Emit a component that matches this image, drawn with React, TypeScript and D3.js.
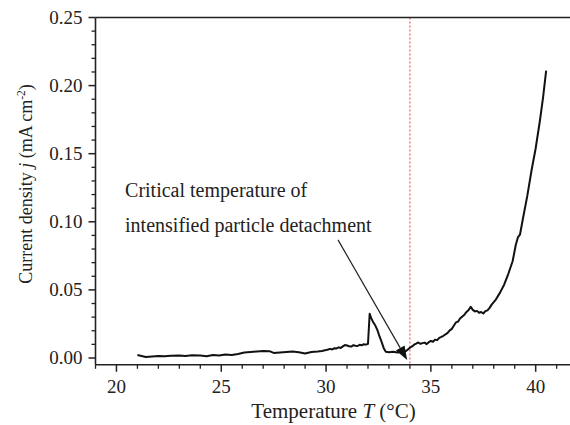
import React from "react";
import * as d3 from "d3";

const temps = [
  21.0, 21.2, 21.4, 21.7, 22.0, 22.3, 22.6, 23.0, 23.3, 23.6, 24.0, 24.3, 24.6, 24.9,
  25.2, 25.5, 25.8, 26.1, 26.4, 26.7, 27.0, 27.3, 27.5, 27.8, 28.1, 28.4, 28.7, 29.0,
  29.3, 29.6, 29.8, 30.0, 30.1, 30.2, 30.3, 30.4, 30.5, 30.6, 30.7, 30.8, 30.9, 31.0,
  31.1, 31.2, 31.3, 31.4, 31.5, 31.6, 31.7, 31.8, 31.9, 32.0, 32.08, 32.15, 32.25,
  32.35, 32.45, 32.55, 32.65, 32.75, 32.85, 33.0, 33.2, 33.4, 33.6, 33.8, 33.9,
  34.0, 34.1, 34.2, 34.3, 34.4, 34.5, 34.6, 34.7, 34.8, 34.9, 35.0, 35.1, 35.2, 35.3,
  35.4, 35.5, 35.6, 35.7, 35.8, 35.9, 36.0, 36.1, 36.2, 36.3, 36.4, 36.5, 36.6, 36.7,
  36.8, 36.9, 37.0, 37.1, 37.2, 37.3, 37.4, 37.5, 37.6, 37.7, 37.8, 37.9, 38.0, 38.1,
  38.3, 38.5, 38.7, 38.9, 39.05, 39.15, 39.25, 39.4, 39.6, 39.8, 40.0, 40.2, 40.35, 40.5,
];
const currents = [
  0.0022, 0.0015, 0.0007, 0.0011, 0.0015, 0.0013, 0.0016, 0.0018, 0.0015, 0.002, 0.0018, 0.0013, 0.0022, 0.0018,
  0.0026, 0.0022, 0.003, 0.0041, 0.0044, 0.0048, 0.0052, 0.005, 0.0037, 0.0041, 0.0044, 0.0048, 0.0042, 0.0033,
  0.0044, 0.0048, 0.0052, 0.0058, 0.0062, 0.0067, 0.0063, 0.0072, 0.007, 0.0078, 0.0074, 0.0085, 0.0095, 0.0092,
  0.0086, 0.0084, 0.0094, 0.009, 0.0088, 0.0097, 0.0093, 0.0101, 0.0098, 0.0104, 0.0325, 0.0295, 0.0262,
  0.0238, 0.0205, 0.0158, 0.0118, 0.0072, 0.0046, 0.0042, 0.0045, 0.0041, 0.0044, 0.005, 0.0062,
  0.0075, 0.0085, 0.0098, 0.0105, 0.0114, 0.0104, 0.0109, 0.0113, 0.0102, 0.0116, 0.0125, 0.0119, 0.0135, 0.0131,
  0.0148, 0.0155, 0.0163, 0.0174, 0.0184, 0.0203, 0.0214, 0.0238, 0.0262, 0.0268, 0.0292, 0.0304, 0.0318, 0.0338,
  0.0352, 0.0376, 0.0353, 0.0342, 0.0346, 0.0332, 0.0338, 0.0327, 0.0344, 0.035, 0.0368, 0.0392, 0.041, 0.0429,
  0.048, 0.054, 0.062, 0.071, 0.083, 0.0885, 0.0905, 0.103, 0.119, 0.1375, 0.154, 0.174, 0.191, 0.211,
];

const xTickValues = [20, 25, 30, 35, 40];
const yTickValues = [0.0, 0.05, 0.1, 0.15, 0.2, 0.25];
const criticalT = [34];
const annotationLines = ["Critical temperature of", "intensified particle detachment"];
const annotationTextAt = [20.41, 0.118];
const arrowFrom = [30.57, 0.0867];
const arrowTo = [33.87, -0.0015];

const W = 570;
const H = 425;
const FONT = "'Liberation Serif', 'Times New Roman', serif";

export default function App() {
  const x = d3.scaleLinear().domain([19, 42]).range([95.5, 577.6]);
  const y = d3.scaleLinear().domain([-0.005, 0.25]).range([364.8, 17.5]);
  const line = d3
    .line<number>()
    .x((_, i) => x(temps[i]))
    .y((d) => y(d));

  const xMinor = d3.range(19, 43, 1).filter((v) => !xTickValues.includes(v));
  const yMinor = d3
    .range(0, 0.2501, 0.01)
    .map((v) => +v.toFixed(2))
    .filter((v) => !yTickValues.some((t) => Math.abs(t - v) < 1e-9));

  const x0 = x(19);
  const yb = y(-0.005);
  const yt = y(0.25);

  const ax1 = x(arrowFrom[0]), ay1 = y(arrowFrom[1]);
  const ax2 = x(arrowTo[0]), ay2 = y(arrowTo[1]);
  const ang = Math.atan2(ay2 - ay1, ax2 - ax1);
  const hl = 14, hw = 5;
  const bx = ax2 - hl * Math.cos(ang), by = ay2 - hl * Math.sin(ang);
  const head = [
    [ax2, ay2],
    [bx + hw * Math.sin(ang), by - hw * Math.cos(ang)],
    [bx - hw * Math.sin(ang), by + hw * Math.cos(ang)],
  ];

  return (
    <svg
      width={W}
      height={H}
      style={{ position: "absolute", left: 0, top: 0, background: "#fff" }}
      fontFamily={FONT}
    >
      <rect x={0} y={0} width={W} height={H} fill="#fff" />
      {criticalT.map((t) => (
        <line key={t} x1={x(t)} x2={x(t)} y1={yt} y2={yb} stroke="#e8504a" strokeWidth={1.1} strokeDasharray="2,2" />
      ))}
      <path d={line(currents) || ""} fill="none" stroke="#111" strokeWidth={2} strokeLinejoin="round" />
      <line x1={ax1} y1={ay1} x2={bx} y2={by} stroke="#222" strokeWidth={1.2} />
      <polygon points={head.map((p) => p.join(",")).join(" ")} fill="#111" />
      <text x={x(annotationTextAt[0])} y={y(annotationTextAt[1])} fontSize={20} fill="#222">
        {annotationLines.map((l, i) => (
          <tspan key={i} x={x(annotationTextAt[0])} dy={i === 0 ? 0 : 35}>
            {l}
          </tspan>
        ))}
      </text>
      <line x1={x0} x2={W} y1={yt} y2={yt} stroke="#222" strokeWidth={1.6} />
      <line x1={x0} x2={x0} y1={yt} y2={yb} stroke="#222" strokeWidth={1.6} />
      <line x1={x0} x2={W} y1={yb} y2={yb} stroke="#222" strokeWidth={1.6} />
      {xTickValues.map((t) => (
        <g key={t}>
          <line x1={x(t)} x2={x(t)} y1={yb} y2={yb + 7} stroke="#222" strokeWidth={1.5} />
          <text x={x(t)} y={yb + 28} fontSize={19} textAnchor="middle" fill="#222">
            {t}
          </text>
        </g>
      ))}
      {xMinor.map((t) => (
        <line key={t} x1={x(t)} x2={x(t)} y1={yb} y2={yb + 4} stroke="#222" strokeWidth={1.3} />
      ))}
      {yTickValues.map((t) => (
        <g key={t}>
          <line x1={x0 - 7} x2={x0} y1={y(t)} y2={y(t)} stroke="#222" strokeWidth={1.5} />
          <text x={x0 - 13} y={y(t)} dy="0.34em" fontSize={19} textAnchor="end" fill="#222">
            {t.toFixed(2)}
          </text>
        </g>
      ))}
      {yMinor.map((t) => (
        <line key={t} x1={x0 - 4} x2={x0} y1={y(t)} y2={y(t)} stroke="#222" strokeWidth={1.3} />
      ))}
      <text x={(95.5 + 577.6) / 2 - 3} y={418} fontSize={21} textAnchor="middle" fill="#222">
        Temperature <tspan fontStyle="italic">T</tspan> (°C)
      </text>
      <text transform={`translate(32,184) rotate(-90)`} fontSize={18} textAnchor="middle" fill="#222">
        Current density <tspan fontStyle="italic">j</tspan> (mA cm
        <tspan dy={-7} fontSize={11.5}>-2</tspan>
        <tspan dy={7}>)</tspan>
      </text>
    </svg>
  );
}
